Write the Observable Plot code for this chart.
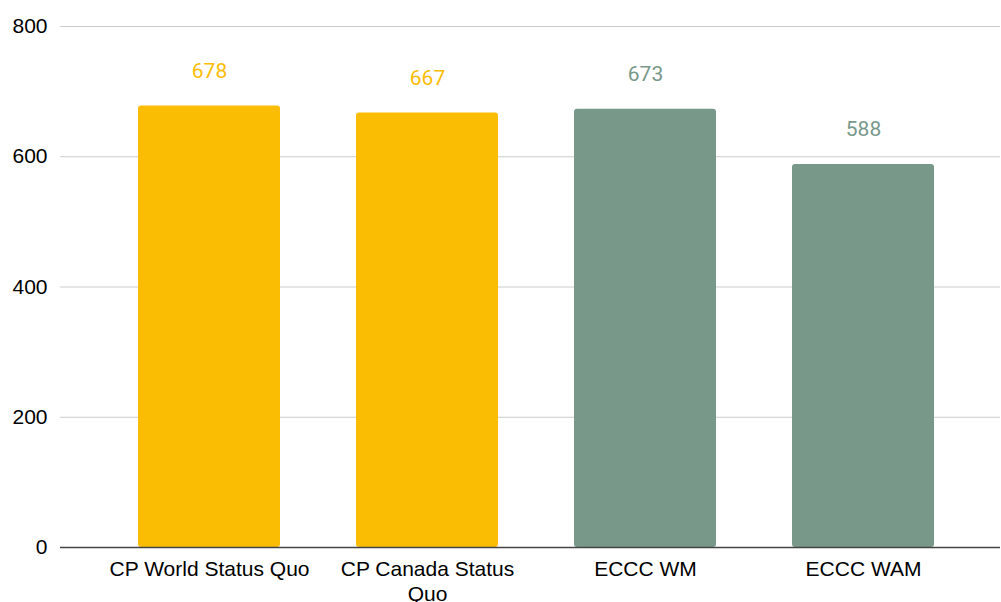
<!DOCTYPE html>
<html>
<head>
<meta charset="utf-8">
<script src="https://cdn.jsdelivr.net/npm/d3@7"></script>
<script src="https://cdn.jsdelivr.net/npm/@observablehq/plot@0.6"></script>
<style>
  html, body { margin: 0; padding: 0; background: #fff; }
  #chart svg { display: block; }
</style>
</head>
<body>
<div id="chart"></div>
<script>
const categories = ["CP World Status Quo", "CP Canada Status Quo", "ECCC WM", "ECCC WAM"];
const tickLabels = ["CP World Status Quo", "CP Canada Status\nQuo", "ECCC WM", "ECCC WAM"];
const values = [678, 667, 673, 588];
const groups = ["CP", "CP", "ECCC", "ECCC"];
const groupNames = ["CP", "ECCC"];
const groupColors = ["#FBBC04", "#78988A"];
const yTicks = [0, 200, 400, 600, 800];

const data = categories.map((c, i) => ({category: c, value: values[i], group: groups[i]}));
const colorOf = g => groupColors[groupNames.indexOf(g)];

const chart = Plot.plot({
  width: 1001,
  height: 602,
  marginLeft: 60,
  marginRight: 1,
  marginTop: 26,
  marginBottom: 55,
  style: {fontFamily: "Liberation Sans, Arial, sans-serif", fontSize: "21px", background: "#fff", overflow: "visible"},
  x: {domain: categories, paddingInner: 0.35, paddingOuter: 0.322, align: 0.544, label: null},
  y: {domain: [0, 800], label: null},
  marks: [
    Plot.gridY(yTicks.filter(d => d > 0), {stroke: "#cccccc", strokeOpacity: 1, strokeWidth: 1}),
    Plot.barY(data, {x: "category", y: "value", fill: d => colorOf(d.group), rx: 3}),
    Plot.ruleY([0], {stroke: "#444", strokeWidth: 1.5}),
    Plot.text(data, {
      x: "category", y: "value", text: d => String(d.value),
      fill: d => colorOf(d.group), dy: -35, fontSize: 21,
      fontFamily: "Roboto, sans-serif"
    }),
    Plot.axisY({ticks: yTicks, tickSize: 0, tickPadding: 13, fontSize: 21, fill: "#000", label: null}),
    Plot.axisX({
      tickSize: 0, tickPadding: 10, fontSize: 21, fill: "#000", label: null,
      tickFormat: d => tickLabels[categories.indexOf(d)], lineHeight: 1.22
    })
  ]
});
document.getElementById("chart").appendChild(chart);
</script>
</body>
</html>
